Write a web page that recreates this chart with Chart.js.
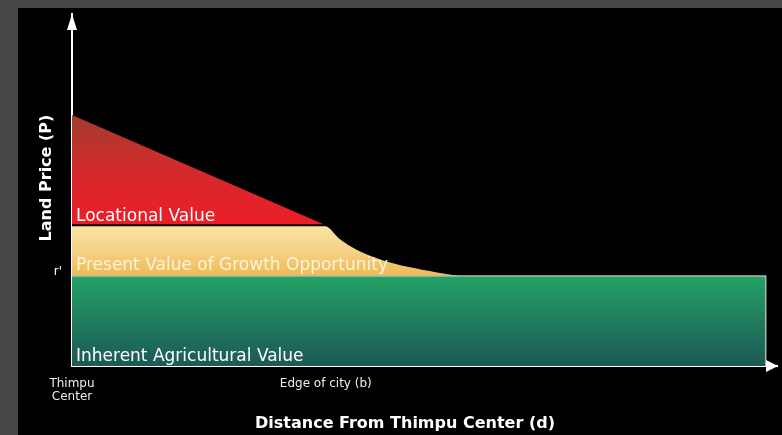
<!DOCTYPE html>
<html>
<head>
<meta charset="utf-8">
<style>
  html, body { margin: 0; padding: 0; background: #474747; }
  #wrap { width: 782px; height: 435px; }
</style>
<script src="https://cdn.jsdelivr.net/npm/chart.js@4.4.1/dist/chart.umd.min.js"></script>
</head>
<body>
<div id="wrap"><canvas id="landChart" width="782" height="435"></canvas></div>
<script>
// distance from center on x (0..100), land price on y (0..100)
const tickValues = [0, 36];
const tickLabels = [["Thimpu", "Center"], "Edge of city (b)"];

const agriX = [0, 98.4, 98.4];
const agriY = [25.6, 25.6, 0];

const growthX = [0, 36, 38, 40.5, 44, 48, 52, 56];
const growthY = [40, 40, 36.4, 33.2, 30.4, 28.3, 26.8, 25.6];

const locX = [0, 36];
const locY = [71.3, 40];

const bandNames = ["Inherent Agricultural Value", "Present Value of Growth Opportunity", "Locational Value"];
const rentLabel = "r'";
const xTitle = "Distance From Thimpu Center (d)";
const yTitle = "Land Price (P)";

const pts = (xs, ys) => xs.map((x, i) => ({ x: x, y: ys[i] }));

function vGradient(chart, fromVal, toVal, stops) {
  if (!chart.chartArea) return stops[stops.length - 1];
  const y = chart.scales.y;
  const g = chart.ctx.createLinearGradient(0, y.getPixelForValue(fromVal), 0, y.getPixelForValue(toVal));
  stops.forEach((c, i) => g.addColorStop(i / (stops.length - 1), c));
  return g;
}

const backdrop = {
  id: "backdrop",
  beforeDraw(chart) {
    const c = chart.ctx;
    c.save();
    c.fillStyle = "#474747";
    c.fillRect(0, 0, chart.width, chart.height);
    c.fillStyle = "#000";
    c.fillRect(18, 8, chart.width - 18, chart.height - 8);
    c.restore();
  }
};

const annotations = {
  id: "annotations",
  afterDraw(chart) {
    const c = chart.ctx;
    const a = chart.chartArea;
    const xs = chart.scales.x, ys = chart.scales.y;
    c.save();
    // arrow heads
    c.fillStyle = "#fff";
    c.beginPath();
    c.moveTo(a.left, a.top);
    c.lineTo(a.left - 5, a.top + 16);
    c.lineTo(a.left + 5, a.top + 16);
    c.closePath();
    c.fill();
    c.beginPath();
    c.moveTo(a.right + 1, a.bottom);
    c.lineTo(a.right - 11, a.bottom - 6);
    c.lineTo(a.right - 11, a.bottom + 6);
    c.closePath();
    c.fill();

    // band names
    c.font = "17px 'DejaVu Sans'";
    c.textAlign = "left";
    c.textBaseline = "alphabetic";
    const x0 = xs.getPixelForValue(0) + 4;
    c.fillText(bandNames[2], x0, ys.getPixelForValue(growthY[0]) - 4);
    c.fillStyle = "#fdf3dc";
    c.fillText(bandNames[1], x0, ys.getPixelForValue(agriY[0]) - 6);
    c.fillStyle = "#fff";
    c.fillText(bandNames[0], x0, ys.getPixelForValue(0) - 5);

    c.font = "12px 'DejaVu Sans'";
    c.textAlign = "right";
    c.fillText(rentLabel, a.left - 10, ys.getPixelForValue(agriY[0]) - 1);

    // titles
    c.font = "bold 16px 'DejaVu Sans'";
    c.textAlign = "center";
    c.textBaseline = "middle";
    c.fillText(xTitle, 405, 424);
    c.translate(47, 178);
    c.rotate(-Math.PI / 2);
    c.fillText(yTitle, 0, 0);
    c.restore();
  }
};

const chart = new Chart(document.getElementById("landChart"), {
  type: "line",
  data: {
    datasets: [
      {
        label: bandNames[0],
        data: pts(agriX, agriY),
        borderColor: "#a9bdb3",
        borderWidth: 1.5,
        fill: "origin",
        backgroundColor: (ctx) => vGradient(ctx.chart, 25.6, 0, ["#23a265", "#1f7c5c", "#1d5957"])
      },
      {
        label: bandNames[1],
        data: pts(growthX, growthY),
        borderColor: "#000",
        borderWidth: 2,
        cubicInterpolationMode: "monotone",
        fill: "origin",
        backgroundColor: (ctx) => vGradient(ctx.chart, 40, 25.6, ["#fae4a6", "#f5d187", "#efbb52"])
      },
      {
        label: bandNames[2],
        data: pts(locX, locY),
        borderWidth: 0,
        fill: "origin",
        backgroundColor: (ctx) => vGradient(ctx.chart, 71.3, 40, ["#a23c2e", "#d42a2c", "#ec1d27"])
      }
    ]
  },
  options: {
    responsive: false,
    animation: false,
    elements: { point: { radius: 0 } },
    layout: { padding: { top: 14, right: 5, left: 0, bottom: 0 } },
    plugins: {
      legend: { display: false },
      tooltip: { enabled: false }
    },
    scales: {
      x: {
        type: "linear",
        min: 0,
        max: 100,
        z: 1,
        grid: { display: false },
        border: { display: true, color: "#fff", width: 2 },
        afterBuildTicks: (scale) => { scale.ticks = tickValues.map(v => ({ value: v })); },
        afterFit: (scale) => { scale.height = 69; },
        ticks: {
          autoSkip: false,
          maxRotation: 0,
          padding: 4,
          color: "#eeeeee",
          font: { family: "'DejaVu Sans'", size: 12, lineHeight: 1.05 },
          callback: (value) => tickLabels[tickValues.indexOf(value)]
        }
      },
      y: {
        min: 0,
        max: 100,
        z: 1,
        grid: { display: false },
        border: { display: true, color: "#fff", width: 2 },
        ticks: { display: false },
        afterFit: (scale) => { scale.width = 72; }
      }
    }
  },
  plugins: [backdrop, annotations]
});
</script>
</body>
</html>
